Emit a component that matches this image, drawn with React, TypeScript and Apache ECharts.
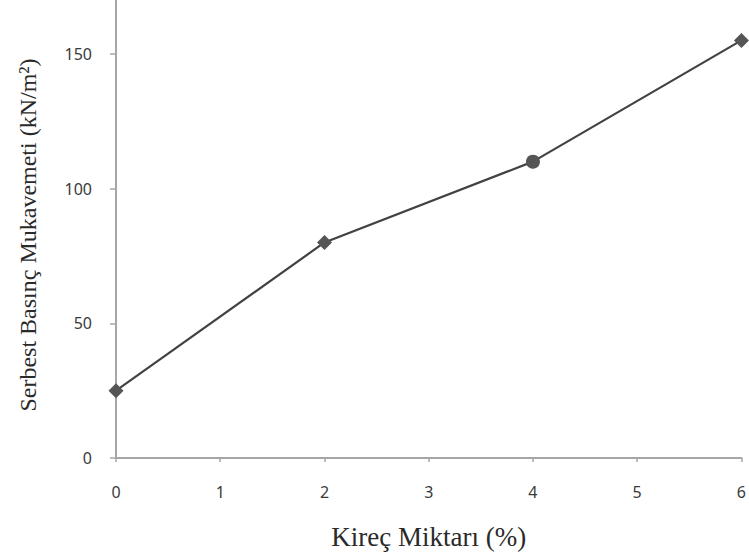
import React, { useEffect, useRef } from "react";
import * as echarts from "echarts";

const xValues = [0, 2, 4, 6];
const yValues = [25, 80, 110, 155];
const markerShapes = ["diamond", "diamond", "circle", "diamond"];
const xTitle = "Kireç Miktarı (%)";
const yTitle = "Serbest Basınç Mukavemeti (kN/m²)";

export default function App() {
  const ref = useRef<HTMLDivElement>(null);
  useEffect(() => {
    if (!ref.current) return;
    const chart = echarts.init(ref.current, undefined, { renderer: "svg" });
    const data = xValues.map((x, i) => ({
      value: [x, yValues[i]],
      symbol: markerShapes[i],
      symbolSize: markerShapes[i] === "circle" ? 14 : 15,
    }));
    chart.setOption({
      animation: false,
      backgroundColor: "#ffffff",
      grid: { left: 116, right: 5, top: 0, bottom: 99, containLabel: false },
      xAxis: {
        type: "value",
        min: 0,
        max: 6,
        interval: 1,
        name: xTitle,
        nameLocation: "middle",
        nameGap: 65,
        nameTextStyle: { fontFamily: "Liberation Serif", fontSize: 27, color: "#2a2a2a" },
        axisLine: { show: true, lineStyle: { color: "#a6a6a6", width: 2 } },
        axisTick: { show: true, length: 4, inside: false, lineStyle: { color: "#a6a6a6", width: 1.5 } },
        axisLabel: { fontFamily: "Noto Sans", fontSize: 16, color: "#3a3a3a", margin: 26 },
        splitLine: { show: false },
      },
      yAxis: {
        type: "value",
        min: 0,
        max: 170,
        interval: 50,
        name: yTitle,
        nameLocation: "middle",
        nameGap: 76,
        nameTextStyle: { fontFamily: "Liberation Serif", fontSize: 24, color: "#2a2a2a", padding: [0, 12, 0, 0] },
        axisLine: { show: true, lineStyle: { color: "#a6a6a6", width: 2 } },
        axisTick: { show: true, length: 6, lineStyle: { color: "#a6a6a6", width: 1.5 } },
        axisLabel: { fontFamily: "Noto Sans", fontSize: 16, color: "#3a3a3a", margin: 24, showMaxLabel: false },
        splitLine: { show: false },
      },
      series: [
        {
          type: "line",
          data,
          lineStyle: { color: "#424242", width: 2.2 },
          itemStyle: { color: "#555555" },
          clip: false,
        },
      ],
    });
    return () => chart.dispose();
  }, []);
  return (
    <div
      ref={ref}
      style={{ position: "fixed", left: 0, top: 0, width: 749, height: 557 }}
    />
  );
}
